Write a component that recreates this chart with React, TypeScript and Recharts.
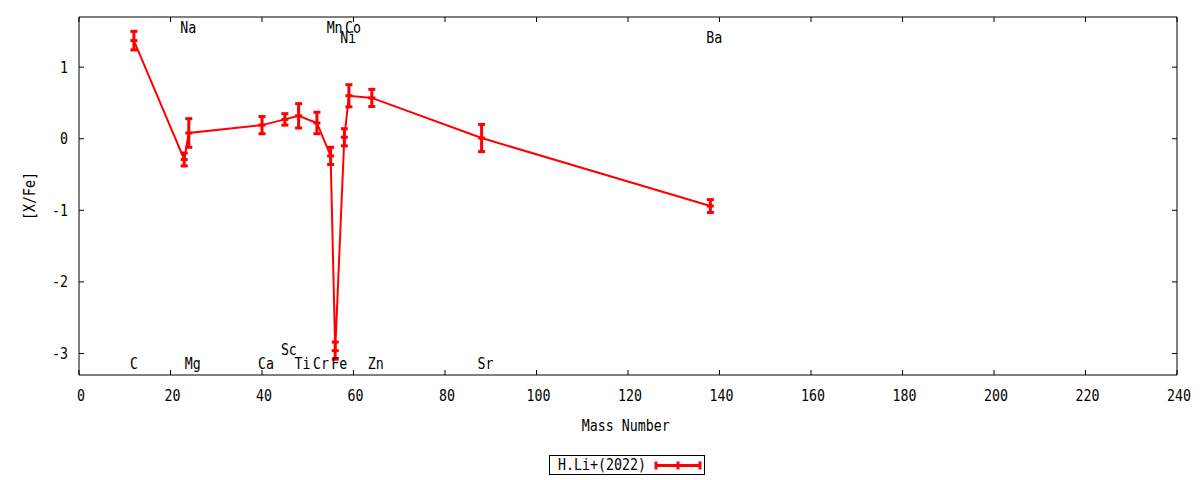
import React from 'react';
import { ComposedChart, Line, XAxis, YAxis, ErrorBar, Scatter, Legend } from 'recharts';

const masses = [12, 23, 24, 40, 45, 48, 52, 55, 56, 58, 59, 64, 88, 138];
const values = [1.37, -0.29, 0.08, 0.19, 0.27, 0.32, 0.22, -0.24, -2.96, 0.02, 0.6, 0.57, 0.01, -0.94];
const errors = [0.13, 0.09, 0.2, 0.12, 0.08, 0.17, 0.15, 0.12, 0.12, 0.12, 0.155, 0.12, 0.19, 0.09];

const labelNames = ['C', 'Na', 'Mg', 'Ca', 'Sc', 'Ti', 'Cr', 'Mn', 'Fe', 'Ni', 'Co', 'Zn', 'Sr', 'Ba'];
const labelMasses = [12, 23, 24, 40, 45, 48, 52, 55, 56, 58, 59, 64, 88, 138];
const labelYs = [-3.14, 1.55, -3.14, -3.14, -2.94, -3.14, -3.14, 1.55, -3.14, 1.41, 1.55, -3.14, -3.14, 1.41];

const xTicks = [0, 20, 40, 60, 80, 100, 120, 140, 160, 180, 200, 220, 240];
const yTicks = [-3, -2, -1, 0, 1];

const seriesName = 'H.Li+(2022)';
const xTitle = 'Mass Number';
const yTitle = '[X/Fe]';
const RED = '#ff0000';
const FONT = '"DejaVu Sans Mono", monospace';
const FS = 16;
const SX = 0.83;

const points = masses.map((m, i) => ({ mass: m, val: values[i], err: errors[i] }));
const labels = labelNames.map((n, i) => ({ mass: labelMasses[i], y: labelYs[i], name: n }));

const TICK = 5;

const Txt = ({ x, y, anchor, rotate, children }: any) => (
  <text
    transform={`translate(${x},${y})${rotate ? ` rotate(${rotate})` : ''} scale(${SX},1)`}
    x={0}
    y={0}
    textAnchor={anchor}
    fontSize={FS}
    fontFamily={FONT}
    fill="#000"
  >
    {children}
  </text>
);

const BottomTick = (p: any) => (
  <g>
    <line x1={p.x} x2={p.x} y1={p.y} y2={p.y - TICK} stroke="#000" strokeWidth={1} />
    <Txt x={p.x + 2} y={p.y + 25.7} anchor="middle">
      {p.payload.value}
    </Txt>
  </g>
);
const TopTick = (p: any) => (
  <line x1={p.x} x2={p.x} y1={p.y} y2={p.y + TICK} stroke="#000" strokeWidth={1} />
);
const LeftTick = (p: any) => (
  <g>
    <line x1={p.x} x2={p.x + TICK} y1={p.y} y2={p.y} stroke="#000" strokeWidth={1} />
    <Txt x={p.x - 11} y={p.y + 5.5} anchor="end">
      {p.payload.value}
    </Txt>
  </g>
);
const RightTick = (p: any) => (
  <line x1={p.x} x2={p.x - TICK} y1={p.y} y2={p.y} stroke="#000" strokeWidth={1} />
);

const XTitle = (p: any) => {
  const vb = p.viewBox || { x: 79, y: 375, width: 1098, height: 105 };
  return (
    <Txt x={vb.x + vb.width / 2 - 2.3} y={vb.y + 55.7} anchor="middle">
      {xTitle}
    </Txt>
  );
};
const YTitle = (p: any) => {
  const vb = p.viewBox || { x: 0, y: 16, width: 79, height: 359 };
  return (
    <Txt x={vb.x + 35} y={vb.y + vb.height / 2} anchor="middle" rotate={-90}>
      {yTitle}
    </Txt>
  );
};

const PlusDot = (p: any) => {
  if (p.cx == null || p.cy == null) return <g key={p.index} />;
  return (
    <path key={p.index} d={`M${p.cx - 3.5},${p.cy}H${p.cx + 3.5}`} stroke={RED} strokeWidth={3} fill="none" />
  );
};

const LabelShape = (p: any) => {
  const cx = p.cx != null ? p.cx : p.x + (p.width || 0) / 2;
  const cy = p.cy != null ? p.cy : p.y + (p.height || 0) / 2;
  return (
    <Txt x={cx - 4} y={cy + 5.5} anchor="start">
      {p.payload ? p.payload.name : ''}
    </Txt>
  );
};

const LegendBox = () => (
  <div
    style={{
      boxSizing: 'border-box',
      width: 156,
      height: 20,
      border: '1px solid #000',
      background: '#fff',
      position: 'relative',
      fontFamily: FONT,
      fontSize: FS,
      lineHeight: '18px',
    }}
  >
    <span
      style={{
        position: 'absolute',
        left: 8,
        top: 0,
        whiteSpace: 'nowrap',
        transform: `scaleX(${SX})`,
        transformOrigin: 'left center',
      }}
    >
      {seriesName}
    </span>
    <svg width={50} height={18} style={{ position: 'absolute', left: 103, top: 0 }}>
      <line x1={3} x2={47} y1={9.5} y2={9.5} stroke={RED} strokeWidth={3} />
      <line x1={3} x2={3} y1={5.5} y2={13.5} stroke={RED} strokeWidth={3} />
      <line x1={25} x2={25} y1={5.5} y2={13.5} stroke={RED} strokeWidth={3} />
      <line x1={47} x2={47} y1={5.5} y2={13.5} stroke={RED} strokeWidth={3} />
    </svg>
  </div>
);

export default function App() {
  return (
    <div style={{ position: 'absolute', left: 0, top: 0, width: 1200, height: 480, background: '#fff' }}>
      <ComposedChart
        width={1200}
        height={480}
        margin={{ top: 16, right: 22, bottom: 0, left: 0 }}
        style={{ fontFamily: FONT }}
      >
        <XAxis
          dataKey="mass"
          type="number"
          domain={[0, 240]}
          ticks={xTicks}
          allowDataOverflow
          height={105}
          tickSize={0}
          tickMargin={0}
          tickLine={false}
          tick={BottomTick}
          axisLine={{ stroke: '#000', strokeWidth: 1 }}
          interval={0}
          label={{ value: xTitle, content: XTitle }}
        />
        <XAxis
          xAxisId="top"
          dataKey="mass"
          orientation="top"
          type="number"
          domain={[0, 240]}
          ticks={xTicks}
          allowDataOverflow
          height={1}
          tickSize={0}
          tickMargin={0}
          tickLine={false}
          tick={TopTick}
          axisLine={{ stroke: '#000', strokeWidth: 1 }}
          interval={0}
        />
        <YAxis
          type="number"
          domain={[-3.3, 1.7]}
          ticks={yTicks}
          allowDataOverflow
          width={79}
          tickSize={0}
          tickMargin={0}
          tickLine={false}
          tick={LeftTick}
          axisLine={{ stroke: '#000', strokeWidth: 1 }}
          interval={0}
          label={{ value: yTitle, content: YTitle }}
        />
        <YAxis
          yAxisId="right"
          orientation="right"
          type="number"
          domain={[-3.3, 1.7]}
          ticks={yTicks}
          allowDataOverflow
          width={1}
          tickSize={0}
          tickMargin={0}
          tickLine={false}
          tick={RightTick}
          axisLine={{ stroke: '#000', strokeWidth: 1 }}
          interval={0}
        />
        <Line
          data={points}
          dataKey="val"
          name={seriesName}
          type="linear"
          stroke={RED}
          strokeWidth={2}
          dot={PlusDot}
          activeDot={false}
          isAnimationActive={false}
        >
          <ErrorBar dataKey="err" direction="y" width={3.5} strokeWidth={3} stroke={RED} />
        </Line>
        <Scatter
          data={labels}
          dataKey="y"
          xAxisId="top"
          yAxisId="right"
          shape={LabelShape}
          isAnimationActive={false}
          legendType="none"
        />
        <Legend
          layout="horizontal"
          verticalAlign="middle"
          align="center"
          content={LegendBox}
          wrapperStyle={{ left: 549, top: 455, width: 156, height: 20 }}
        />
      </ComposedChart>
    </div>
  );
}
